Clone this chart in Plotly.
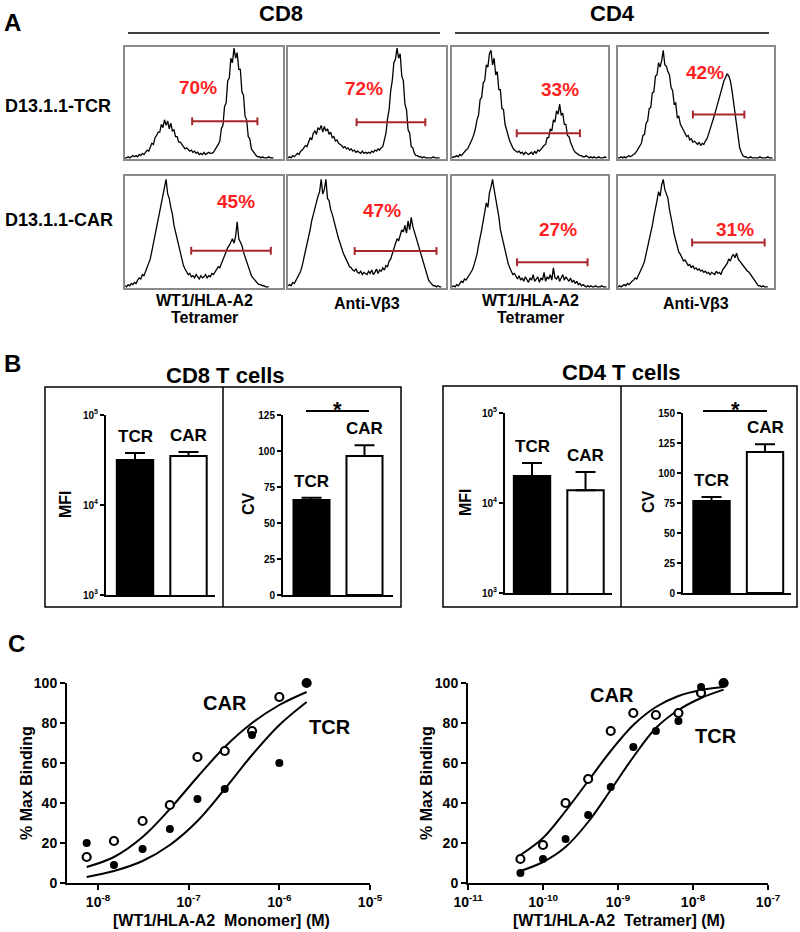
import math
import plotly.graph_objects as go

W, H = 800, 932
FONT = "Liberation Sans, Arial, Helvetica, sans-serif"

# ---------------- Panel A data (flow histograms, % of max count per channel) --------------
channels = list(range(100))
hist_cd8_tet_tcr = [
    1, 1, 2, 1, 2, 3, 2, 3, 2, 4,
    3, 5, 4, 6, 8, 7, 10, 14, 13, 19,
    21, 24, 24, 31, 28, 35, 30, 34, 27, 32,
    25, 26, 20, 20, 15, 15, 13, 11, 9, 10,
    8, 7, 8, 6, 7, 5, 6, 4, 5, 4,
    6, 4, 5, 6, 5, 5, 6, 8, 10, 13,
    16, 27, 30, 47, 50, 70, 72, 90, 86, 99,
    90, 95, 80, 80, 60, 57, 38, 35, 20, 18,
    9, 7, 4, 3, 2, 2, 1, 2, 1, 1,
    1, 2, 1, 1, 1, None, None, None, None, None]
hist_cd8_vb3_tcr = [
    1, 2, 1, 3, 2, 4, 5, 4, 7, 8,
    10, 12, 11, 16, 19, 17, 23, 25, 22, 28,
    26, 30, 24, 29, 25, 27, 22, 24, 19, 20,
    16, 17, 14, 13, 12, 10, 11, 9, 10, 8,
    9, 7, 8, 6, 7, 6, 5, 7, 5, 6,
    5, 6, 5, 7, 6, 8, 7, 9, 8, 10,
    11, 17, 23, 36, 44, 61, 70, 86, 89, 99,
    90, 94, 74, 70, 49, 44, 26, 23, 11, 10,
    5, 3, 3, 2, 2, 1, 2, 1, 1, 1,
    1, 1, 2, 1, 1, 1, 1, None, None, None]
hist_cd4_tet_tcr = [
    1, 2, 2, 3, 2, 4, 3, 5, 6, 8,
    9, 12, 14, 18, 22, 27, 35, 39, 53, 55,
    68, 70, 84, 82, 94, 97, 84, 90, 75, 78,
    62, 62, 45, 44, 31, 27, 21, 16, 12, 10,
    8, 7, 6, 7, 5, 6, 4, 6, 5, 4,
    5, 6, 4, 7, 5, 8, 7, 9, 10, 12,
    13, 19, 19, 27, 25, 35, 33, 43, 40, 49,
    39, 41, 31, 31, 21, 20, 15, 11, 8, 6,
    5, 4, 3, 3, 2, 2, 3, 2, 1, 2,
    1, 2, 1, 1, 2, 1, 1, 1, 2, 1]
hist_cd4_vb3_tcr = [
    1, 1, 2, 1, 2, 1, 2, 3, 2, 3,
    4, 5, 7, 9, 11, 14, 21, 22, 32, 34,
    45, 46, 59, 60, 74, 75, 86, 82, 88, 97,
    84, 83, 78, 75, 64, 61, 49, 50, 37, 38,
    31, 28, 26, 23, 20, 21, 17, 18, 15, 16,
    14, 13, 15, 12, 14, 13, 16, 18, 22, 26,
    30, 35, 40, 45, 50, 56, 60, 66, 70, 73,
    76, 74, 70, 62, 52, 40, 28, 18, 10, 6,
    3, 2, 2, 1, 1, 2, 1, 1, 1, 1,
    1, 2, 1, 1, 1, 1, 2, 1, 1, 1]
hist_cd8_tet_car = [
    2, 1, 3, 2, 4, 3, 5, 4, 7, 9,
    8, 12, 11, 15, 17, 22, 26, 33, 40, 48,
    56, 62, 70, 76, 82, 90, 97, 84, 80, 72,
    66, 56, 50, 42, 36, 30, 25, 20, 17, 14,
    12, 13, 10, 11, 9, 12, 10, 8, 11, 9,
    10, 12, 9, 11, 10, 13, 12, 14, 16, 19,
    18, 22, 25, 29, 32, 36, 38, 42, 44, 40,
    46, 59, 44, 41, 38, 32, 28, 22, 18, 14,
    11, 9, 7, 6, 4, 3, 3, 2, 2, 1,
    1, 1, None, None, None, None, None, None, None, None]
hist_cd8_vb3_car = [
    2, 3, 2, 5, 4, 7, 9, 12, 15, 20,
    26, 32, 40, 46, 52, 60, 66, 72, 78, 82,
    86, 97, 84, 88, 97, 80, 78, 70, 66, 60,
    55, 50, 44, 40, 35, 31, 28, 24, 22, 19,
    18, 16, 15, 17, 14, 13, 15, 12, 14, 13,
    12, 15, 13, 16, 12, 14, 17, 13, 16, 15,
    18, 16, 20, 19, 24, 26, 30, 34, 38, 44,
    42, 48, 52, 50, 56, 49, 60, 52, 63, 55,
    50, 46, 40, 36, 30, 26, 20, 15, 10, 7,
    5, 3, 2, 2, 1, 2, 1, 1, None, None]
hist_cd4_tet_car = [
    1, 2, 1, 3, 2, 4, 6, 5, 8, 7,
    9, 11, 13, 16, 20, 24, 30, 38, 44, 52,
    60, 68, 76, 72, 85, 90, 97, 88, 80, 72,
    64, 52, 46, 38, 32, 26, 22, 18, 15, 12,
    13, 10, 8, 11, 7, 9, 6, 10, 8, 5,
    9, 7, 12, 6, 8, 10, 5, 9, 7, 14,
    6, 10, 8, 12, 7, 18, 9, 8, 11, 6,
    9, 12, 7, 10, 8, 6, 9, 5, 7, 4,
    6, 3, 4, 2, 3, 2, 1, 2, 1, 2,
    1, 1, 2, 1, 1, 1, 2, 1, 1, 1]
hist_cd4_vb3_car = [
    1, 2, 1, 2, 3, 2, 4, 3, 5, 6,
    7, 9, 8, 11, 13, 16, 20, 24, 30, 36,
    42, 50, 56, 64, 70, 78, 86, 82, 92, 97,
    88, 84, 80, 70, 64, 56, 48, 42, 37, 32,
    30, 26, 24, 25, 22, 20, 21, 18, 20, 17,
    18, 16, 17, 15, 16, 14, 15, 13, 14, 12,
    14, 13, 12, 15, 13, 14, 12, 16, 18, 20,
    22, 26, 24, 28, 30, 27, 31, 26, 24, 22,
    20, 18, 17, 15, 14, 12, 10, 7, 5, 3,
    2, 2, 1, 2, 1, 1, 1, None, None, None]

row_labels = ["D13.1.1-TCR", "D13.1.1-CAR"]
col_labels = [["WT1/HLA-A2", "Tetramer"], ["Anti-Vβ3"], ["WT1/HLA-A2", "Tetramer"], ["Anti-Vβ3"]]
gate_percent = [["70%", "72%", "33%", "42%"], ["45%", "47%", "27%", "31%"]]
gate_start = [[42.5, 43.4, 41.5, 48.0], [41.9, 42.2, 41.7, 47.5]]
gate_end = [[83.8, 86.9, 82.0, 81.0], [92.3, 94.0, 86.9, 94.0]]

# ---------------- Panel B data ----------------
groups = ["TCR", "CAR"]
cd8_mfi = [31600, 35000]
cd8_mfi_sem = [6200, 3800]
cd8_cv = [66.0, 96.5]
cd8_cv_sem = [1.5, 7.5]
cd4_mfi = [19950, 13900]
cd4_mfi_sem = [7850, 8200]
cd4_cv = [76.7, 117.5]
cd4_cv_sem = [3.3, 6.5]

# ---------------- Panel C data ----------------
mono_conc = [7.5e-9, 1.5e-8, 3.1e-8, 6.2e-8, 1.25e-7, 2.5e-7, 5e-7, 1e-6, 2e-6]
mono_car = [13, 21, 31, 39, 63, 66, 76, 93, 100]
mono_tcr = [20, 9, 17, 27, 42, 47, 74, 60, 100]
mono_car_fit = [8, 13, 23, 37, 53, 68, 80, 89, 95.5]
mono_tcr_fit = [3, 6, 11, 19, 31, 47, 64, 79, 90.5]

tet_conc = [5e-11, 1e-10, 2e-10, 4e-10, 8e-10, 1.6e-9, 3.2e-9, 6.4e-9, 1.28e-8, 2.56e-8]
tet_car = [12, 19, 40, 52, 76, 85, 84, 85, 95, 100]
tet_tcr = [5, 12, 22, 34, 48, 68, 76, 81, 98, 100]
tet_car_fit = [14, 22.5, 36, 51, 66, 79, 88, 93.5, 96.5, 98]
tet_tcr_fit = [6, 10.5, 18, 30.5, 46.5, 63, 77.5, 86.5, 92.5, 96.7]


# ---------------- helpers ----------------
def xd(a, b):
    return [a / W, b / W]


def yd(top, bottom):
    return [1 - bottom / H, 1 - top / H]


def PX(x):
    return x / W


def PY(y):
    return 1 - y / H


def bold(t):
    return "<b>" + t + "</b>"


fig = go.Figure()
layout = dict(template="none", width=W, height=H, autosize=False,
              margin=dict(l=0, r=0, t=0, b=0, pad=0),
              plot_bgcolor="white", paper_bgcolor="white", showlegend=False,
              font=dict(family=FONT, color="black"))
annotations = []
shapes = []
GATE = "#a8262a"
PCT = "#ff1f1f"


def axis_names(n):
    s = "" if n == 1 else str(n)
    return "x" + s, "y" + s, "xaxis" + s, "yaxis" + s


def paper_text(x, y, text, size, angle=0, xanchor="center", color="black"):
    annotations.append(dict(xref="paper", yref="paper", x=PX(x), y=PY(y), text=bold(text),
                            showarrow=False, font=dict(size=size, color=color, family=FONT),
                            xanchor=xanchor, yanchor="middle", textangle=angle))


def paper_line(x0, y0, x1, y1, width=1.5, color="black"):
    shapes.append(dict(type="line", xref="paper", yref="paper", x0=PX(x0), y0=PY(y0),
                       x1=PX(x1), y1=PY(y1), line=dict(color=color, width=width)))


# ---------------- Panel A ----------------
col_x = [(125, 283), (288, 446), (452, 608), (618, 774)]
row_y = [(47, 159), (176, 288)]
hists = [[hist_cd8_tet_tcr, hist_cd8_vb3_tcr, hist_cd4_tet_tcr, hist_cd4_vb3_tcr],
         [hist_cd8_tet_car, hist_cd8_vb3_car, hist_cd4_tet_car, hist_cd4_vb3_car]]
gate_level = [[33.7, 32.8, 23.0, 39.7], [33.3, 33.0, 23.0, 40.6]]
pct_pos = [[(46, 64), (48, 63), (69, 62), (56, 77.6)],
           [(70, 77), (59.7, 69), (68, 52), (74.7, 52)]]

n = 0
for r in range(2):
    for c in range(4):
        n += 1
        xa, ya, xk, yk = axis_names(n)
        fig.add_trace(go.Scatter(x=channels, y=hists[r][c], mode="lines",
                                 line=dict(color="black", width=1.3), xaxis=xa, yaxis=ya,
                                 hoverinfo="skip", connectgaps=False))
        common = dict(range=[0, 100], showline=True, mirror=True, linecolor="#8a8a8a",
                      linewidth=1.5, showticklabels=False, ticks="", showgrid=False,
                      zeroline=False, fixedrange=True, automargin=False)
        layout[xk] = dict(domain=xd(*col_x[c]), anchor=ya, **common)
        layout[yk] = dict(domain=yd(*row_y[r]), anchor=xa, **common)
        g0, g1, gy = gate_start[r][c], gate_end[r][c], gate_level[r][c]
        shapes.append(dict(type="line", xref=xa, yref=ya, x0=g0, x1=g1, y0=gy, y1=gy,
                           line=dict(color=GATE, width=2)))
        for gx in (g0, g1):
            shapes.append(dict(type="line", xref=xa, yref=ya, x0=gx, x1=gx, y0=gy - 3.5,
                               y1=gy + 3.5, line=dict(color=GATE, width=2)))
        px_, py_ = pct_pos[r][c]
        annotations.append(dict(xref=xa, yref=ya, x=px_, y=py_, text=bold(gate_percent[r][c]),
                                showarrow=False, font=dict(size=19, color=PCT, family=FONT)))

paper_text(12, 22, "A", 24)
paper_text(281, 14, "CD8", 22)
paper_text(612, 14, "CD4", 22)
paper_line(128, 33, 440, 33)
paper_line(455, 33, 769, 33)
paper_text(3, 106, row_labels[0], 18, xanchor="left")
paper_text(3, 220, row_labels[1], 18, xanchor="left")
col_centers = [204, 367, 530, 696]
for c in range(4):
    labs = col_labels[c]
    if len(labs) == 2:
        paper_text(col_centers[c], 300, labs[0], 16)
        paper_text(col_centers[c], 317, labs[1], 16)
    else:
        paper_text(col_centers[c], 304, labs[0], 16)

# ---------------- Panel B ----------------
paper_text(12, 363, "B", 24)
paper_text(225, 375, "CD8 T cells", 22)
paper_text(621, 373, "CD4 T cells", 22)
for (x0, x1, xm, y0) in [(45, 401, 223, 387), (443, 797, 621, 386)]:
    shapes.append(dict(type="rect", xref="paper", yref="paper", x0=PX(x0), x1=PX(x1),
                       y0=PY(607), y1=PY(y0), line=dict(color="black", width=1.5)))
    paper_line(xm, y0, xm, 607)

bar_specs = [
    (cd8_mfi, cd8_mfi_sem, True, (106, 215), (415, 595), [-0.542, 1.495], [3, 5],
     [1e3, 1e4, 1e5], ["10<sup>3</sup>", "10<sup>4</sup>", "10<sup>5</sup>"], "MFI", 65),
    (cd8_cv, cd8_cv_sem, False, (283, 393), (415, 595), [-0.538, 1.538], [0, 125],
     [0, 25, 50, 75, 100, 125], None, "CV", 248),
    (cd4_mfi, cd4_mfi_sem, True, (505, 612), (413, 593), [-0.505, 1.495], [3, 5],
     [1e3, 1e4, 1e5], ["10<sup>3</sup>", "10<sup>4</sup>", "10<sup>5</sup>"], "MFI", 465),
    (cd4_cv, cd4_cv_sem, False, (683, 791), (413, 593), [-0.533, 1.486], [0, 150],
     [0, 25, 50, 75, 100, 125, 150], None, "CV", 648),
]
for spec in bar_specs:
    vals, sem, islog, xdom, ydom, xr, yr, tv, tt, ytitle, tx = spec
    n += 1
    xa, ya, xk, yk = axis_names(n)
    fig.add_trace(go.Bar(x=groups, y=vals, width=0.68, xaxis=xa, yaxis=ya,
                         marker=dict(color=["black", "white"], line=dict(color="black", width=2)),
                         error_y=dict(type="data", symmetric=False, array=sem, arrayminus=[0, 0],
                                      thickness=2, width=10, color="black"),
                         hoverinfo="skip"))
    layout[xk] = dict(domain=xd(*xdom), anchor=ya, type="category", range=xr, showline=True,
                      linecolor="black", linewidth=2, ticks="", showticklabels=False,
                      showgrid=False, zeroline=False, fixedrange=True, automargin=False)
    yax = dict(domain=yd(*ydom), anchor=xa, range=yr, showline=True, linecolor="black",
               linewidth=2, ticks="outside", ticklen=4, tickwidth=1.5, tickcolor="black",
               tickvals=tv, showgrid=False, zeroline=False, fixedrange=True, automargin=False,
               tickfont=dict(size=10, family=FONT, weight="bold"))
    if islog:
        yax["type"] = "log"
        yax["ticktext"] = tt
    layout[yk] = yax
    for i, g in enumerate(groups):
        top = vals[i] + sem[i]
        yv = math.log10(top) if islog else top
        annotations.append(dict(xref=xa, yref=ya, x=g, y=yv, text=bold(g), showarrow=False,
                                yanchor="bottom", yshift=5,
                                font=dict(size=17, family=FONT, color="black")))
    paper_text(tx, (ydom[0] + ydom[1]) / 2 - 1, ytitle, 16, angle=-90)

# significance markers
paper_line(306, 411, 369, 411, width=2)
paper_text(337, 409, "*", 22)
paper_line(703, 411, 767, 411, width=2)
paper_text(735, 409, "*", 22)

# ---------------- Panel C ----------------
paper_text(16, 643, "C", 24)
curve_specs = [
    (mono_conc, mono_car, mono_tcr, mono_car_fit, mono_tcr_fit, (67, 370), [-8.342, -5],
     [1e-8, 1e-7, 1e-6, 1e-5], ["10<sup>-8</sup>", "10<sup>-7</sup>", "10<sup>-6</sup>", "10<sup>-5</sup>"],
     "[WT1/HLA-A2\u00a0\u00a0Monomer] (M)", 221, 26, (2.5e-7, 90), (3.6e-6, 78)),
    (tet_conc, tet_car, tet_tcr, tet_car_fit, tet_tcr_fit, (468, 768), [-11, -7],
     [1e-11, 1e-10, 1e-9, 1e-8, 1e-7],
     ["10<sup>-11</sup>", "10<sup>-10</sup>", "10<sup>-9</sup>", "10<sup>-8</sup>", "10<sup>-7</sup>"],
     "[WT1/HLA-A2\u00a0\u00a0Tetramer] (M)", 619, 426, (8.3e-10, 94), (2.04e-8, 73.5)),
]
for spec in curve_specs:
    conc, car, tcr, car_fit, tcr_fit, xdom, xr, tv, tt, xtitle, xtx, ytx, car_lab, tcr_lab = spec
    n += 1
    xa, ya, xk, yk = axis_names(n)
    for fit in (car_fit, tcr_fit):
        fig.add_trace(go.Scatter(x=conc, y=fit, mode="lines", xaxis=xa, yaxis=ya,
                                 line=dict(color="black", width=2, shape="spline", smoothing=1.0),
                                 hoverinfo="skip", cliponaxis=False))
    fig.add_trace(go.Scatter(x=conc, y=car, mode="markers", xaxis=xa, yaxis=ya, cliponaxis=False,
                             marker=dict(symbol="circle", size=8, color="white",
                                         line=dict(color="black", width=2.2)), hoverinfo="skip"))
    fig.add_trace(go.Scatter(x=conc, y=tcr, mode="markers", xaxis=xa, yaxis=ya, cliponaxis=False,
                             marker=dict(symbol="circle", size=8, color="black",
                                         line=dict(color="black", width=0)), hoverinfo="skip"))
    layout[xk] = dict(domain=xd(*xdom), anchor=ya, type="log", range=xr, showline=True,
                      linecolor="black", linewidth=2, ticks="outside", ticklen=5, tickwidth=2,
                      tickcolor="black", tickvals=tv, ticktext=tt, showgrid=False,
                      zeroline=False, fixedrange=True, automargin=False,
                      tickfont=dict(size=14, family=FONT, weight="bold"))
    layout[yk] = dict(domain=yd(683, 883), anchor=xa, range=[0, 100], showline=True,
                      linecolor="black", linewidth=2, ticks="outside", ticklen=5, tickwidth=2,
                      tickcolor="black", tickvals=[0, 20, 40, 60, 80, 100], showgrid=False,
                      zeroline=False, fixedrange=True, automargin=False,
                      tickfont=dict(size=14, family=FONT, weight="bold"))
    annotations.append(dict(xref=xa, yref=ya, x=math.log10(car_lab[0]), y=car_lab[1],
                            text=bold("CAR"), showarrow=False,
                            font=dict(size=20, family=FONT, color="black")))
    annotations.append(dict(xref=xa, yref=ya, x=math.log10(tcr_lab[0]), y=tcr_lab[1],
                            text=bold("TCR"), showarrow=False,
                            font=dict(size=20, family=FONT, color="black")))
    paper_text(xtx, 920, xtitle, 16)
    paper_text(ytx, 783, "% Max Binding", 16, angle=-90)

layout["annotations"] = annotations
layout["shapes"] = shapes
fig.update_layout(**layout)
fig.write_html("out.html", config={"displayModeBar": False},
               post_script="document.body.style.margin='0px';document.body.style.padding='0px';")
